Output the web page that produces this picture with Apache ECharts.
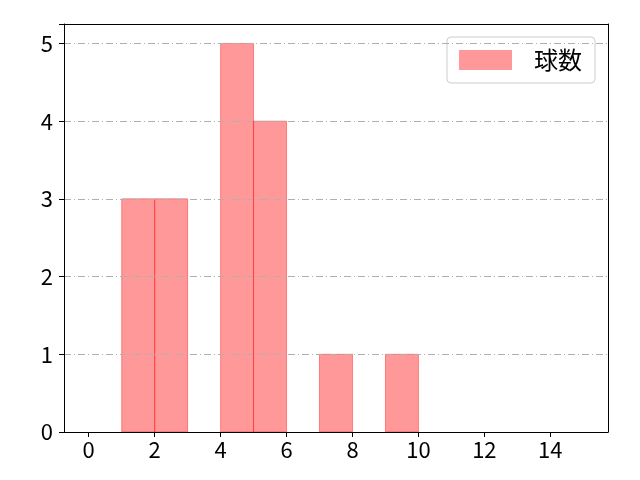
<!DOCTYPE html>
<html>
<head>
<meta charset="utf-8">
<script src="https://cdn.jsdelivr.net/npm/echarts@6/dist/echarts.min.js"></script>
<style>
html, body { margin: 0; padding: 0; background: #fff; }
#container { width: 640px; height: 480px; }
</style>
</head>
<body>
<div id="container"></div>
<script>
var seriesName = '球数';
var binEdges = [0, 1, 2, 3, 4, 5, 6, 7, 8, 9, 10, 11, 12, 13, 14, 15];
var counts = [0, 3, 3, 0, 5, 4, 0, 1, 0, 1, 0, 0, 0, 0, 0];
var xTicks = [0, 2, 4, 6, 8, 10, 12, 14];
var yTicks = [0, 1, 2, 3, 4, 5];

var bins = [];
for (var i = 0; i < counts.length; i++) {
    if (counts[i] > 0) {
        bins.push([binEdges[i], binEdges[i + 1], counts[i]]);
    }
}

var font = '"Noto Sans CJK JP", "Noto Sans", sans-serif';
var frameAxis = {
    axisLine: {show: true, onZero: false, lineStyle: {color: '#000', width: 1}},
    axisTick: {show: false},
    axisLabel: {show: false},
    splitLine: {show: false},
    z: 10
};
var dom = document.getElementById('container');
var myChart = echarts.init(dom, null, {renderer: 'canvas'});
var option = {
    animation: false,
    grid: {left: 64, right: 32, top: 24, bottom: 48},
    legend: {
        right: 45,
        top: 37,
        orient: 'vertical',
        icon: 'rect',
        itemWidth: 53,
        itemHeight: 20,
        padding: [11, 13, 11, 12],
        borderColor: '#cccccc',
        borderWidth: 1,
        borderRadius: 4,
        textStyle: {fontSize: 24, color: '#000', fontFamily: font, padding: [0, 0, 0, 17]},
        data: [seriesName]
    },
    xAxis: [{
        type: 'value',
        min: -0.75,
        max: 15.75,
        splitLine: {show: false},
        axisLine: {onZero: false, lineStyle: {color: '#000', width: 1}},
        axisTick: {show: true, length: 5, inside: false, customValues: xTicks, lineStyle: {color: '#000'}},
        axisLabel: {customValues: xTicks, fontSize: 22, color: '#000', fontFamily: font, margin: 7},
        z: 10
    }, Object.assign({type: 'value', position: 'top', min: -0.75, max: 15.75}, frameAxis)],
    yAxis: [{
        type: 'value',
        min: 0,
        max: 5.25,
        interval: 1,
        axisLine: {show: true, onZero: false, lineStyle: {color: '#000', width: 1}},
        axisTick: {show: true, length: 5, lineStyle: {color: '#000'}},
        axisLabel: {
            fontSize: 22, color: '#000', fontFamily: font, margin: 11,
            formatter: function (v) { return yTicks.indexOf(v) >= 0 ? String(v) : ''; }
        },
        splitLine: {
            show: true,
            lineStyle: {color: '#b0b0b0', width: 1, type: [7, 3, 1, 3]}
        },
        z: 10
    }, Object.assign({type: 'value', position: 'right', min: 0, max: 5.25}, frameAxis)],
    series: [{
        name: seriesName,
        type: 'custom',
        itemStyle: {color: 'rgba(255,0,0,0.4)'},
        renderItem: function (params, api) {
            var p0 = api.coord([api.value(0), 0]);
            var p1 = api.coord([api.value(1), api.value(2)]);
            return {
                type: 'rect',
                shape: {x: p0[0], y: p1[1], width: p1[0] - p0[0], height: p0[1] - p1[1]},
                style: {fill: 'rgba(255,0,0,0.4)', stroke: 'rgba(255,0,0,0.4)', lineWidth: 1}
            };
        },
        encode: {x: [0, 1], y: 2},
        data: bins
    }]
};

if (option && typeof option === 'object') {
    myChart.setOption(option);
}
</script>
</body>
</html>
